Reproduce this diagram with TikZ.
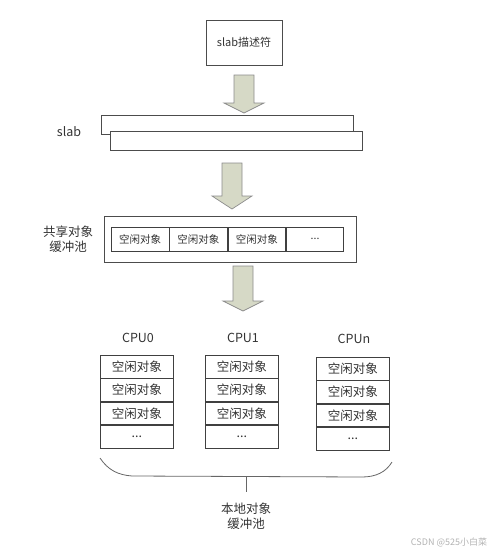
\documentclass[tikz,border=0pt]{standalone}
\usepackage{fontspec}
\setmainfont{Noto Sans CJK SC}
\begin{document}
\begin{tikzpicture}[x=1pt,y=-1pt,
  box/.style={draw=black!70,line width=0.8pt,fill=white,inner sep=0pt},
  cellbox/.style={draw=black!75,line width=0.9pt,minimum width=73pt,minimum height=22.5pt,inner sep=0pt,font=\fontsize{12.5}{14}\selectfont,text=black!80},
  pcell/.style={draw=black!75,line width=0.8pt,minimum width=57.5pt,minimum height=24pt,inner sep=0pt,font=\fontsize{10.5}{12}\selectfont,text=black!80},
  lbl/.style={font=\fontsize{12.5}{15}\selectfont,text=black!80,align=center,inner sep=0pt},
  blockarrow/.style={draw=black!45,line width=0.7pt,fill={rgb,255:red,214;green,217;blue,198}}]
\useasboundingbox (0,0) rectangle (500,552);
% top box
\node[box,minimum width=76pt,minimum height=45pt,font=\fontsize{11}{13}\selectfont,text=black!80] (desc) at (244,42.5) {slab描述符};
% arrow 1
\newcommand{\blockarr}[5]{% center x, top y, shaft bottom y, tip y, half shaft
  \draw[blockarrow] (#1-#5,#2) -- (#1+#5,#2) -- (#1+#5,#3) -- (#1+2*#5,#3) -- (#1,#4) -- (#1-2*#5,#3) -- (#1-#5,#3) -- cycle;}
\blockarr{244}{75}{103}{113}{10}
% slab rectangles
\node[box,minimum width=252pt,minimum height=19pt,anchor=north west] (slabA) at (101,115) {};
\node[box,minimum width=252pt,minimum height=19pt,anchor=north west] (slabB) at (110,131) {};
\node[lbl] (slablbl) at (69,132) {slab};
% arrow 2
\blockarr{232}{163}{196}{209}{10}
% shared pool
\node[box,minimum width=252pt,minimum height=46pt,anchor=north west] (pool) at (104,216) {};
\node[lbl] (poollbl) at (68,239) {共享对象\\缓冲池};
\node[pcell,anchor=north west] (p1) at (111,227) {空闲对象};
\node[pcell,anchor=west] (p2) at (p1.east) {空闲对象};
\node[pcell,anchor=west] (p3) at (p2.east) {空闲对象};
\node[pcell,anchor=west] (p4) at (p3.east) {...};
% arrow 3
\blockarr{243}{266}{301}{311}{10}
% CPU labels
\node[lbl] (cpu0) at (138,338) {CPU0};
\node[lbl] (cpu1) at (243,338) {CPU1};
\node[lbl] (cpun) at (354,339) {CPUn};
% stacks
\foreach \n/\x/\y in {a/100/355,b/205/355,c/316/357}{
  \node[cellbox,anchor=north west] (\n1) at (\x,\y) {空闲对象};
  \node[cellbox,anchor=north] (\n2) at (\n1.south) {空闲对象};
  \node[cellbox,anchor=north] (\n3) at (\n2.south) {空闲对象};
  \node[cellbox,anchor=north] (\n4) at (\n3.south) {...};
}
% brace
\coordinate (bl) at (100,458);
\coordinate (br) at (392,462);
\coordinate (bm) at (246,476);
\coordinate (bs) at (246,492);
\draw[black!60,line width=0.8pt] (bl) .. controls (108,470) and (118,475) .. (132,476) -- (362,477) .. controls (376,477) and (386,472) .. (br);
\draw[black!60,line width=0.8pt] (bm) -- (bs);
\node[lbl] (locallbl) at (246,516) {本地对象\\缓冲池};
% watermark
\node[font=\fontsize{9}{11}\selectfont,text=black!30,inner sep=0pt] (wm) at (449,542) {CSDN @525小白菜};
\end{tikzpicture}
\end{document}
